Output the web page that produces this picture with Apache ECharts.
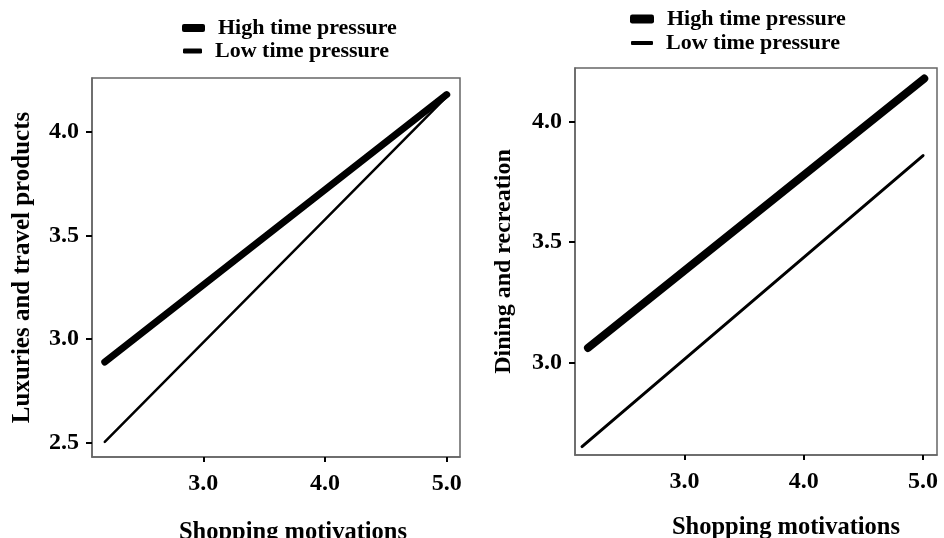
<!DOCTYPE html>
<html>
<head>
<meta charset="utf-8">
<script src="https://cdn.jsdelivr.net/npm/echarts@6/dist/echarts.min.js"></script>
<style>
  html, body { margin: 0; padding: 0; background: #fff; }
  #main { width: 944px; height: 538px; }
</style>
</head>
<body>
<div id="main"></div>
<script>
// values (end points of each fitted line)
var leftHighX = [2.19, 5.0];
var leftHighY = [2.89, 4.18];
var leftLowX = [2.19, 5.0];
var leftLowY = [2.505, 4.17];
var rightHighX = [2.19, 5.01];
var rightHighY = [3.06, 4.18];
var rightLowX = [2.14, 5.0];
var rightLowY = [2.65, 3.86];

var xTicks = [3.0, 4.0, 5.0];
var leftYTicks = [2.5, 3.0, 3.5, 4.0];
var rightYTicks = [3.0, 3.5, 4.0];

var seriesNames = ['High time pressure', 'Low time pressure'];
var xName = 'Shopping motivations';
var leftYName = 'Luxuries and travel products';
var rightYName = 'Dining and recreation';

var font = 'Liberation Serif';

function pairs(xs, ys) {
  return xs.map(function (x, i) { return [x, ys[i]]; });
}

function fmt(v) { return Number(v).toFixed(1); }

function xAxisFor(idx, min, max, gap, shift) {
  return {
    gridIndex: idx,
    type: 'value',
    min: min,
    max: max,
    name: xName,
    nameLocation: 'middle',
    nameGap: gap,
    nameTextStyle: { fontFamily: font, fontWeight: 'bold', fontSize: 24.5, color: '#000', padding: [0, 0, 0, shift] },
    axisLine: { show: true, lineStyle: { color: '#666', width: 1.5 } },
    axisTick: { show: true, customValues: xTicks, length: 5, lineStyle: { color: '#000', width: 2 } },
    axisLabel: { customValues: xTicks, formatter: fmt, margin: 15, fontFamily: font, fontWeight: 'bold', fontSize: 24, color: '#000' },
    splitLine: { show: false }
  };
}

function yAxisFor(idx, min, max, name, ticks, gap, size) {
  return {
    gridIndex: idx,
    type: 'value',
    min: min,
    max: max,
    name: name,
    nameLocation: 'middle',
    nameGap: gap,
    nameTextStyle: { fontFamily: font, fontWeight: 'bold', fontSize: size, color: '#000' },
    axisLine: { show: true, lineStyle: { color: '#666', width: 1.5 } },
    axisTick: { show: true, customValues: ticks, length: 6, lineStyle: { color: '#000', width: 2 } },
    axisLabel: { customValues: ticks, formatter: fmt, margin: 13, fontFamily: font, fontWeight: 'bold', fontSize: 24, color: '#000' },
    splitLine: { show: false }
  };
}

function lineSeries(name, idx, data, width) {
  return {
    name: name,
    type: 'line',
    xAxisIndex: idx,
    yAxisIndex: idx,
    data: data,
    symbol: 'none',
    silent: true,
    color: '#000',
    lineStyle: { color: '#000', width: width, cap: 'round' }
  };
}

function legendFor(left, top, name, w, h) {
  return {
    left: left,
    top: top,
    data: [name],
    icon: 'roundRect',
    itemWidth: w,
    itemHeight: h,
    selectedMode: false,
    padding: 0,
    itemStyle: { color: '#000' },
    textStyle: { fontFamily: font, fontWeight: 'bold', fontSize: 22, color: '#000', padding: [0, 0, 4, 8] }
  };
}

var chart = echarts.init(document.getElementById('main'), null, { renderer: 'canvas' });

var option = {
  backgroundColor: '#fff',
  animation: false,
  grid: [
    { left: 92, top: 78, width: 368, height: 379, show: true, borderColor: '#666', borderWidth: 1.5, outerBoundsMode: 'none', containLabel: false },
    { left: 575, top: 68, width: 362, height: 387, show: true, borderColor: '#666', borderWidth: 1.5, outerBoundsMode: 'none', containLabel: false }
  ],
  legend: [
    legendFor(182, 17, seriesNames[0], 23, 8),
    legendFor(183, 40, seriesNames[1], 19, 5),
    legendFor(630, 8, seriesNames[0], 24, 9),
    legendFor(631, 32, seriesNames[1], 22, 4)
  ],
  xAxis: [
    xAxisFor(0, 2.085, 5.109, 63, 34),
    xAxisFor(1, 2.081, 5.117, 60, 60)
  ],
  yAxis: [
    yAxisFor(0, 2.432, 4.26, leftYName, leftYTicks, 57, 25),
    yAxisFor(1, 2.615, 4.224, rightYName, rightYTicks, 59, 24)
  ],
  series: [
    lineSeries(seriesNames[0], 0, pairs(leftHighX, leftHighY), 7),
    lineSeries(seriesNames[1], 0, pairs(leftLowX, leftLowY), 2.5),
    lineSeries(seriesNames[0], 1, pairs(rightHighX, rightHighY), 8),
    lineSeries(seriesNames[1], 1, pairs(rightLowX, rightLowY), 3)
  ]
};

chart.setOption(option);
</script>
</body>
</html>
